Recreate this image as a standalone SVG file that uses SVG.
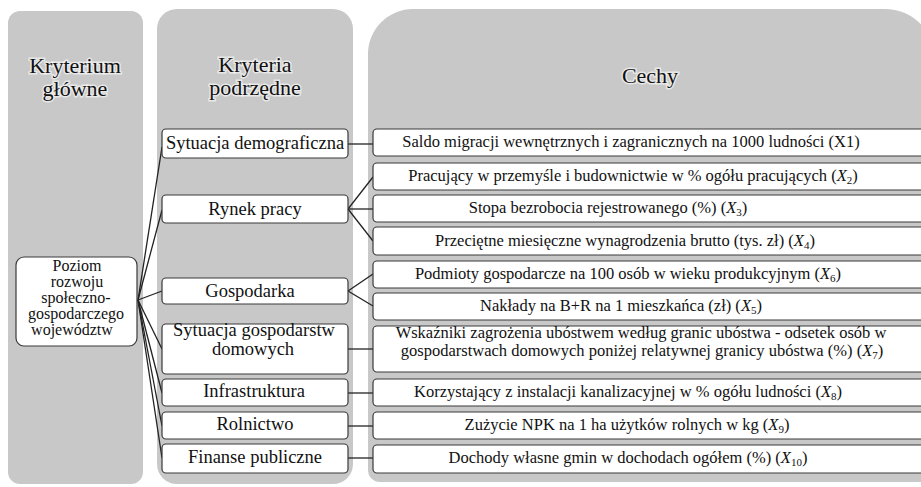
<svg xmlns="http://www.w3.org/2000/svg" width="921" height="487" viewBox="0 0 921 487">
<rect width="921" height="487" fill="#ffffff"/>
<g id="panels" fill="#c8c8c8">
<rect x="8" y="11" width="135" height="473" rx="12"/>
<rect x="157" y="9" width="196" height="475" rx="20"/>
<path d="M413,9 H885 A50,50 0 0 1 935,59 V482 H380 A12,12 0 0 1 368,470 V54 A45,45 0 0 1 413,9 Z"/>
</g>
<g id="headers" font-family="'Times New Roman', 'Liberation Serif', Tinos, serif" font-size="22" text-anchor="middle" fill="#111" stroke="#ffffff" stroke-width="3" stroke-opacity="0.6" paint-order="stroke">
<text x="75" y="73">Kryterium</text>
<text x="75" y="96">główne</text>
<text x="255" y="72">Kryteria</text>
<text x="255" y="95">podrzędne</text>
<text x="650" y="83">Cechy</text>
</g>
<g id="connectors" stroke="#222" stroke-width="1.3" fill="none">
<line x1="138" y1="300" x2="162" y2="147"/>
<line x1="138" y1="300" x2="162" y2="210"/>
<line x1="138" y1="300" x2="162" y2="291"/>
<line x1="138" y1="300" x2="162" y2="349"/>
<line x1="138" y1="300" x2="162" y2="393"/>
<line x1="138" y1="300" x2="162" y2="426"/>
<line x1="138" y1="300" x2="162" y2="458"/>
<line x1="348" y1="144" x2="373" y2="144"/>
<line x1="348" y1="209" x2="373" y2="177"/>
<line x1="348" y1="209" x2="373" y2="209"/>
<line x1="348" y1="209" x2="373" y2="241"/>
<line x1="348" y1="291" x2="373" y2="274"/>
<line x1="348" y1="291" x2="373" y2="306"/>
<line x1="348" y1="349" x2="373" y2="349"/>
<line x1="348" y1="393" x2="373" y2="393"/>
<line x1="348" y1="426" x2="373" y2="426"/>
<line x1="348" y1="458" x2="373" y2="458"/>
</g>
<g id="root">
<rect x="16" y="257" width="121" height="89" rx="8" fill="#ffffff" stroke="#3a3a3a" stroke-width="1.2"/>
<g font-family="'Times New Roman', 'Liberation Serif', Tinos, serif" font-size="16" text-anchor="middle" fill="#111">
<text x="77" y="271">Poziom</text>
<text x="77" y="287">rozwoju</text>
<text x="76" y="303">społeczno-</text>
<text x="76" y="319">gospodarczego</text>
<text x="72" y="335">województw</text>
</g>
</g>
<g id="criteria" font-family="'Times New Roman', 'Liberation Serif', Tinos, serif" font-size="18.5" text-anchor="middle">
<g id="k1"><rect x="162" y="129" width="186" height="29" rx="4" fill="#ffffff" stroke="#3a3a3a" stroke-width="1.2"/><text x="255" y="149" fill="#111">Sytuacja demograficzna</text></g>
<g id="k2"><rect x="162" y="195" width="186" height="28" rx="4" fill="#ffffff" stroke="#3a3a3a" stroke-width="1.2"/><text x="255" y="215" fill="#111">Rynek pracy</text></g>
<g id="k3"><rect x="162" y="278" width="186" height="26" rx="4" fill="#ffffff" stroke="#3a3a3a" stroke-width="1.2"/><text x="250" y="297" fill="#111">Gospodarka</text></g>
<g id="k4"><rect x="162" y="324" width="186" height="50" rx="4" fill="#ffffff" stroke="#3a3a3a" stroke-width="1.2"/><text x="254" y="336" fill="#111">Sytuacja gospodarstw</text><text x="253" y="355" fill="#111">domowych</text></g>
<g id="k5"><rect x="162" y="379" width="186" height="27" rx="4" fill="#ffffff" stroke="#3a3a3a" stroke-width="1.2"/><text x="254" y="397" fill="#111">Infrastruktura</text></g>
<g id="k6"><rect x="162" y="412" width="186" height="27" rx="4" fill="#ffffff" stroke="#3a3a3a" stroke-width="1.2"/><text x="255" y="430" fill="#111">Rolnictwo</text></g>
<g id="k7"><rect x="162" y="444" width="186" height="29" rx="4" fill="#ffffff" stroke="#3a3a3a" stroke-width="1.2"/><text x="255" y="463" fill="#111">Finanse publiczne</text></g>
</g>
<g id="features" font-family="'Times New Roman', 'Liberation Serif', Tinos, serif" font-size="16.5" text-anchor="middle">
<g id="c1"><rect x="373" y="129" width="562" height="27" rx="4" fill="#ffffff" stroke="#3a3a3a" stroke-width="1.2"/><text x="631" y="147" fill="#111">Saldo migracji wewnętrznych i zagranicznych na 1000 ludności (X1)</text></g>
<g id="c2"><rect x="373" y="163" width="562" height="27" rx="4" fill="#ffffff" stroke="#3a3a3a" stroke-width="1.2"/><text x="633" y="181" fill="#111">Pracujący w przemyśle i budownictwie w % ogółu pracujących (<tspan font-style="italic">X</tspan><tspan font-size="11" dy="3">2</tspan><tspan dy="-3">)</tspan></text></g>
<g id="c3"><rect x="373" y="195" width="562" height="27" rx="4" fill="#ffffff" stroke="#3a3a3a" stroke-width="1.2"/><text x="608" y="213" fill="#111">Stopa bezrobocia rejestrowanego (%) (<tspan font-style="italic">X</tspan><tspan font-size="11" dy="3">3</tspan><tspan dy="-3">)</tspan></text></g>
<g id="c4"><rect x="373" y="227" width="562" height="28" rx="4" fill="#ffffff" stroke="#3a3a3a" stroke-width="1.2"/><text x="625" y="246" fill="#111">Przeciętne miesięczne wynagrodzenia brutto (tys. zł) (<tspan font-style="italic">X</tspan><tspan font-size="11" dy="3">4</tspan><tspan dy="-3">)</tspan></text></g>
<g id="c5"><rect x="373" y="261" width="562" height="27" rx="4" fill="#ffffff" stroke="#3a3a3a" stroke-width="1.2"/><text x="628" y="279" fill="#111">Podmioty gospodarcze na 100 osób w wieku produkcyjnym (<tspan font-style="italic">X</tspan><tspan font-size="11" dy="3">6</tspan><tspan dy="-3">)</tspan></text></g>
<g id="c6"><rect x="373" y="293" width="562" height="27" rx="4" fill="#ffffff" stroke="#3a3a3a" stroke-width="1.2"/><text x="621" y="311" fill="#111">Nakłady na B+R na 1 mieszkańca (zł) (<tspan font-style="italic">X</tspan><tspan font-size="11" dy="3">5</tspan><tspan dy="-3">)</tspan></text></g>
<g id="c7"><rect x="373" y="326" width="562" height="46" rx="4" fill="#ffffff" stroke="#3a3a3a" stroke-width="1.2"/><text x="641" y="338" fill="#111">Wskaźniki zagrożenia ubóstwem według granic ubóstwa - odsetek osób w</text><text x="642" y="356" fill="#111">gospodarstwach domowych poniżej relatywnej granicy ubóstwa (%) (<tspan font-style="italic">X</tspan><tspan font-size="11" dy="3">7</tspan><tspan dy="-3">)</tspan></text></g>
<g id="c8"><rect x="373" y="379" width="562" height="27" rx="4" fill="#ffffff" stroke="#3a3a3a" stroke-width="1.2"/><text x="628" y="397" fill="#111">Korzystający z instalacji kanalizacyjnej w % ogółu ludności (<tspan font-style="italic">X</tspan><tspan font-size="11" dy="3">8</tspan><tspan dy="-3">)</tspan></text></g>
<g id="c9"><rect x="373" y="412" width="562" height="27" rx="4" fill="#ffffff" stroke="#3a3a3a" stroke-width="1.2"/><text x="627" y="430" fill="#111">Zużycie NPK na 1 ha użytków rolnych w kg (<tspan font-style="italic">X</tspan><tspan font-size="11" dy="3">9</tspan><tspan dy="-3">)</tspan></text></g>
<g id="c10"><rect x="373" y="445" width="562" height="28" rx="4" fill="#ffffff" stroke="#3a3a3a" stroke-width="1.2"/><text x="628" y="463" fill="#111">Dochody własne gmin w dochodach ogółem (%) (<tspan font-style="italic">X</tspan><tspan font-size="11" dy="3">10</tspan><tspan dy="-3">)</tspan></text></g>
</g>
</svg>
